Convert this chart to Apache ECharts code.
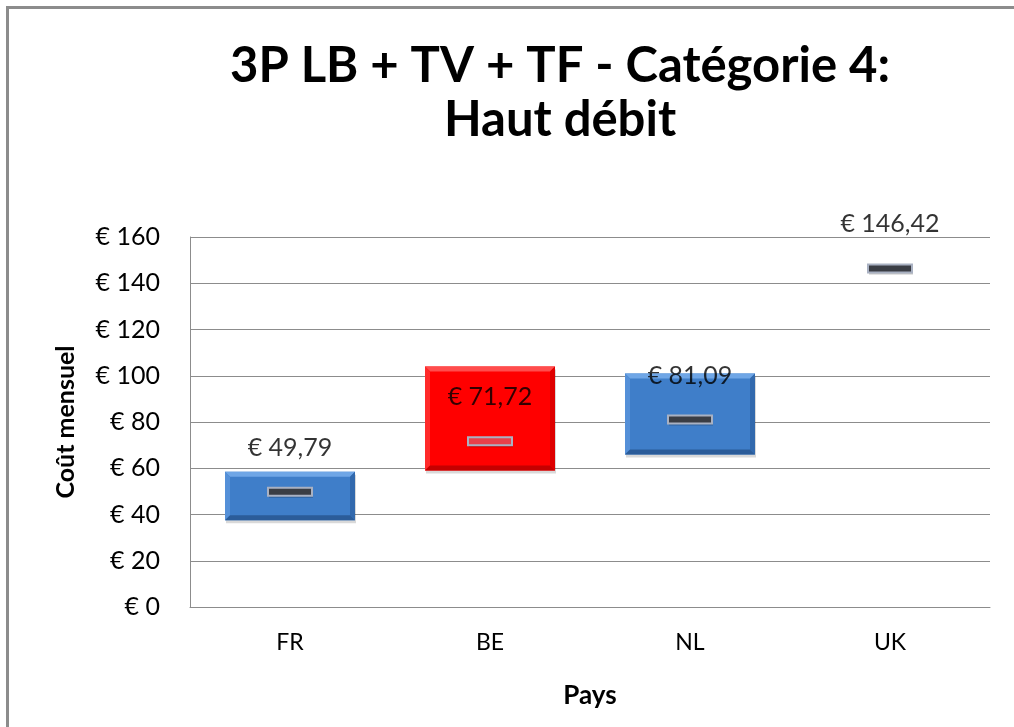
<!DOCTYPE html>
<html>
<head>
<meta charset="utf-8">
<script src="https://cdn.jsdelivr.net/npm/echarts@6/dist/echarts.min.js"></script>
<style>
  html, body { margin: 0; padding: 0; background: #fff; }
  #frame { position: absolute; left: 6px; top: 6px; width: 1008px; height: 721px;
           border-left: 3px solid #8c8c8c; border-top: 3px solid #8c8c8c; box-sizing: border-box; }
  #chart { position: absolute; left: 0; top: 0; width: 1014px; height: 727px; }
</style>
</head>
<body>
<div id="frame"></div>
<div id="chart"></div>
<script>
// Monthly cost ranges per country, with the reference offer price
const countries = ['FR', 'BE', 'NL', 'UK'];
const lowValues = [37.5, 59, 66, 146.42];
const highValues = [58.5, 104, 101, 146.42];
const offerPrices = [49.79, 71.72, 81.09, 146.42];
const highlighted = ['BE'];

const FONT = 'Lato, "Open Sans", sans-serif';

function euro(v) {
  return '€ ' + v.toFixed(2).replace('.', ',');
}

const palettes = {
  blue: { body: '#3f7ec9', top: '#6fa6e6', left: '#5590d8', right: '#3269ad', bottom: '#2b5c99' },
  red: { body: '#ff0000', top: '#ff4d4d', left: '#ff2a2a', right: '#de0000', bottom: '#c40000' }
};

const rangeData = countries.map((c, i) => [i, lowValues[i], highValues[i]]);
const markerData = countries.map((c, i) => [i, offerPrices[i]]);

function renderRange(params, api) {
  const idx = api.value(0);
  const lo = api.value(1), hi = api.value(2);
  if (hi - lo <= 0) return null;
  const pTop = api.coord([idx, hi]);
  const pBot = api.coord([idx, lo]);
  const w = api.size([1, 0])[0] * 0.65;
  const x0 = pTop[0] - w / 2, x1 = pTop[0] + w / 2;
  const y0 = pTop[1], y1 = pBot[1];
  const b = 5;
  const pal = highlighted.indexOf(countries[idx]) >= 0 ? palettes.red : palettes.blue;
  return {
    type: 'group',
    children: [
      { type: 'rect', shape: { x: x0 + 1, y: y0 + 3, width: w, height: y1 - y0 },
        style: { fill: 'rgba(0,0,0,0.15)' }, z2: 0 },
      { type: 'rect', shape: { x: x0, y: y0, width: w, height: y1 - y0 },
        style: { fill: pal.body }, z2: 1 },
      { type: 'polygon', shape: { points: [[x0, y0], [x1, y0], [x1 - b, y0 + b], [x0 + b, y0 + b]] },
        style: { fill: pal.top }, z2: 2 },
      { type: 'polygon', shape: { points: [[x0, y0], [x0 + b, y0 + b], [x0 + b, y1 - b], [x0, y1]] },
        style: { fill: pal.left }, z2: 2 },
      { type: 'polygon', shape: { points: [[x1, y0], [x1, y1], [x1 - b, y1 - b], [x1 - b, y0 + b]] },
        style: { fill: pal.right }, z2: 2 },
      { type: 'polygon', shape: { points: [[x0, y1], [x0 + b, y1 - b], [x1 - b, y1 - b], [x1, y1]] },
        style: { fill: pal.bottom }, z2: 2 }
    ]
  };
}

function renderMarker(params, api) {
  const idx = api.value(0);
  const p = api.coord([idx, api.value(1)]);
  const w = 44, h = 8;
  const isHi = highlighted.indexOf(countries[idx]) >= 0;
  return {
    type: 'group',
    children: [
      { type: 'rect', shape: { x: p[0] - w / 2 + 1, y: p[1] - h / 2 + 2, width: w, height: h },
        style: { fill: 'rgba(0,0,0,0.22)' } },
      { type: 'rect', shape: { x: p[0] - w / 2, y: p[1] - h / 2, width: w, height: h },
        style: { fill: isHi ? '#e8404a' : '#3a3d44', stroke: '#a9b1c2', lineWidth: 2 } }
    ]
  };
}

const chart = echarts.init(document.getElementById('chart'), null, { renderer: 'canvas' });
chart.setOption({
  animation: false,
  title: {
    text: '3P LB + TV + TF - Catégorie 4:\nHaut débit',
    left: 555, top: 34, textAlign: 'center',
    textStyle: { fontFamily: FONT, fontWeight: 'bold', fontSize: 49, lineHeight: 54, color: '#000' }
  },
  grid: { left: 190, right: 24, top: 237, bottom: 120 },
  xAxis: {
    type: 'category',
    data: countries,
    name: 'Pays',
    nameLocation: 'middle',
    nameGap: 76,
    nameTextStyle: { fontFamily: FONT, fontWeight: 'bold', fontSize: 26, color: '#000' },
    axisLine: { lineStyle: { color: '#8c8c8c', width: 1 } },
    axisTick: { show: false },
    axisLabel: { fontFamily: FONT, fontSize: 23, color: '#000', margin: 24 }
  },
  yAxis: {
    type: 'value',
    min: 0, max: 160, interval: 20,
    name: 'Coût mensuel',
    nameLocation: 'middle',
    nameRotate: 90,
    nameGap: 112,
    nameTextStyle: { fontFamily: FONT, fontWeight: 'bold', fontSize: 25, color: '#000' },
    axisLine: { show: true, lineStyle: { color: '#8c8c8c', width: 1 } },
    axisTick: { show: false },
    splitLine: { lineStyle: { color: '#8c8c8c', width: 1 } },
    axisLabel: { fontFamily: FONT, fontSize: 25, color: '#000', margin: 30,
                 formatter: v => '€ ' + v }
  },
  series: [
    {
      type: 'custom',
      renderItem: renderRange,
      data: rangeData,
      encode: { x: 0, y: [1, 2] },
      z: 2
    },
    {
      type: 'custom',
      renderItem: renderMarker,
      data: markerData,
      encode: { x: 0, y: 1 },
      z: 3
    },
    {
      type: 'scatter',
      data: markerData,
      symbolSize: 1,
      itemStyle: { color: 'rgba(0,0,0,0)' },
      label: {
        show: true,
        position: 'inside',
        offset: [0, -44],
        formatter: p => euro(p.value[1]),
        fontFamily: FONT, fontSize: 25, color: '#000'
      },
      z: 4
    }
  ]
});
</script>
</body>
</html>
